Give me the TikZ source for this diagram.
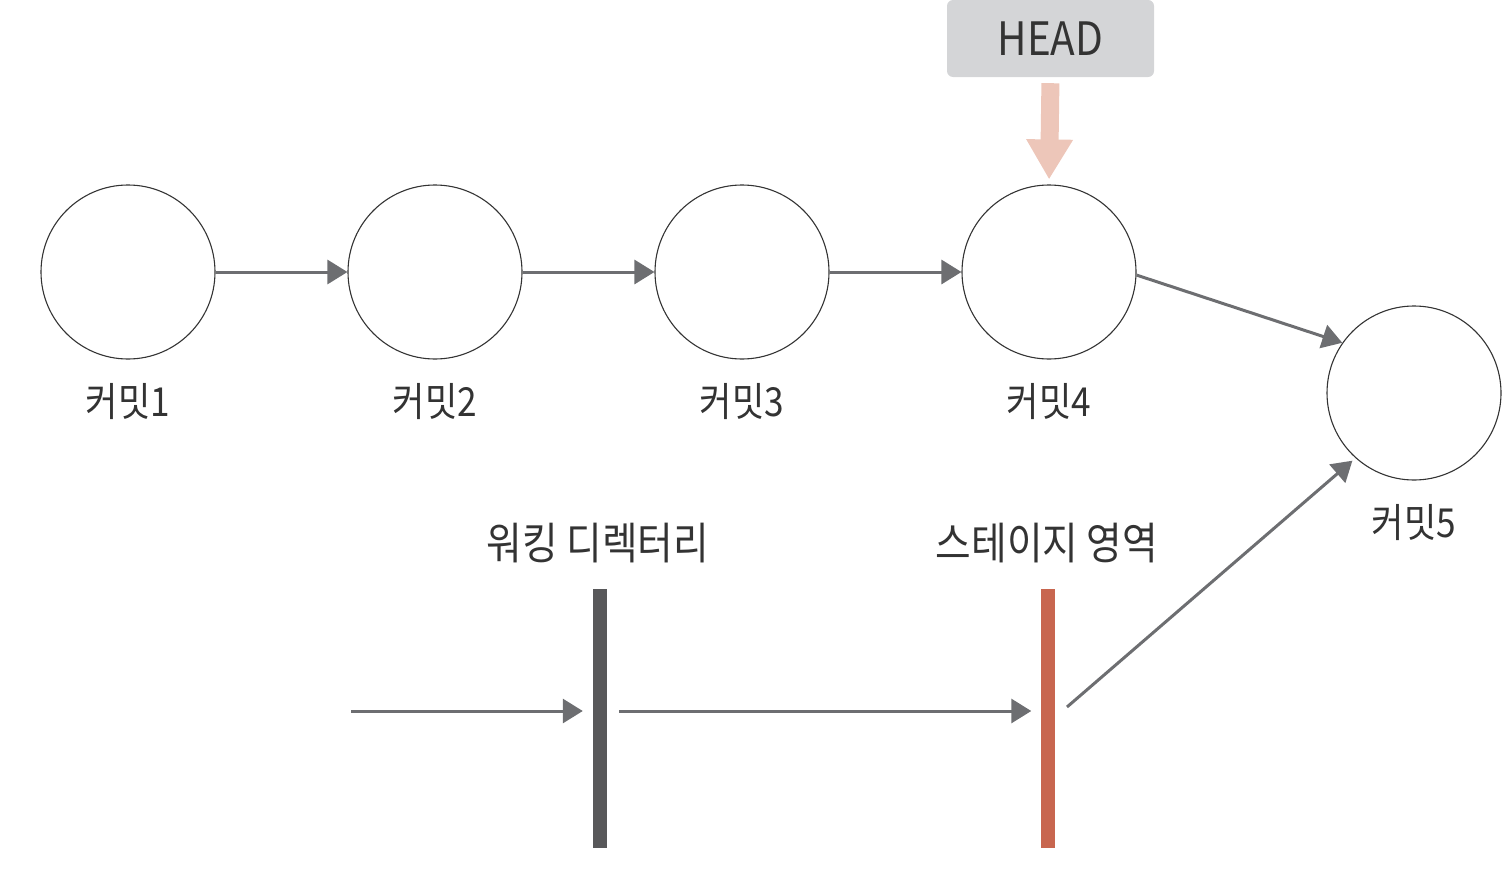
\documentclass[tikz,border=0pt]{standalone}
\usepackage{fontspec}
\setmainfont[FakeStretch=0.88]{Noto Sans CJK KR}
\usetikzlibrary{arrows.meta}
\definecolor{linegray}{HTML}{6D6E71}
\definecolor{txtgray}{HTML}{333333}
\definecolor{boxgray}{HTML}{D4D5D7}
\definecolor{headpink}{HTML}{EDC6B9}
\definecolor{bardark}{HTML}{58585A}
\definecolor{barred}{HTML}{C8664F}
\tikzset{
  commit/.style={circle, draw=txtgray, line width=1.1pt, minimum size=174pt, inner sep=0pt},
  clabel/.style={text=txtgray, font=\fontsize{40}{40}\selectfont, inner sep=0pt},
  blabel/.style={text=txtgray, font=\fontsize{44}{44}\selectfont, inner sep=0pt},
  conn/.style={draw=linegray, line width=3pt, -{Triangle[length=20pt,width=24pt]}},
  bar/.style={rectangle, inner sep=0pt, minimum width=14pt, minimum height=259pt},
}
\begin{document}
\begin{tikzpicture}[x=1pt,y=-1pt]
\useasboundingbox (0,0) rectangle (1512,870);
\node[commit] (c1) at (128,272) {};
\node[commit] (c2) at (435,272) {};
\node[commit] (c3) at (742,272) {};
\node[commit] (c4) at (1049,272) {};
\node[commit] (c5) at (1414,393) {};
\node[clabel] (l1) at (128,402) {커밋1};
\node[clabel] (l2) at (435,402) {커밋2};
\node[clabel] (l3) at (742,402) {커밋3};
\node[clabel] (l4) at (1049,402) {커밋4};
\node[clabel] (l5) at (1414,523) {커밋5};
\node[rectangle, rounded corners=6pt, fill=boxgray, minimum width=207pt, minimum height=77pt, inner sep=0pt, text=txtgray, font=\fontsize{46}{46}\selectfont] (head) at (1050.5,38.5) {HEAD};
\draw[draw=headpink, line width=18pt, -{Triangle[length=40pt,width=44pt]}, shorten <=6pt, shorten >=5pt] (head.south) -- (c4.north);
\draw[conn] (c1) -- (c2);
\draw[conn] (c2) -- (c3);
\draw[conn] (c3) -- (c4);
\draw[conn] (c4.-2) -- (c5.145);
\node[bar, fill=bardark] (wd) at (600,718.5) {};
\node[bar, fill=barred] (st) at (1047.5,718.5) {};
\node[blabel] (wdl) at (598,543) {워킹 디렉터리};
\node[blabel] (stl) at (1047,543) {스테이지 영역};
\coordinate (in) at (351,711);
\draw[conn, shorten >=10pt] (in) -- (wd.west |- in);
\draw[conn, shorten <=12pt, shorten >=9pt] (wd.east |- in) -- (st.west |- in);
\coordinate (out) at (1067,707);
\draw[conn, shorten >=4pt] (out) -- (c5.-132);
\end{tikzpicture}
\end{document}
